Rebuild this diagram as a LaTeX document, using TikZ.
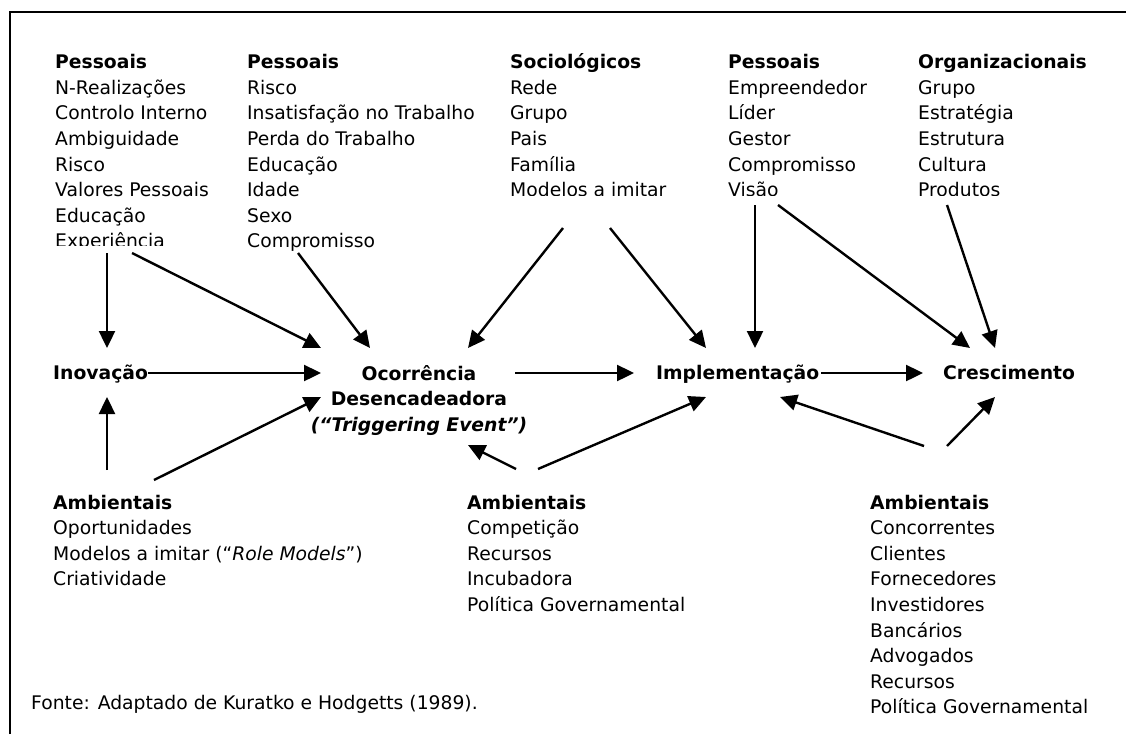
\documentclass[tikz,border=0pt]{standalone}
\usepackage{fontspec}
\setmainfont{DejaVu Sans}
\usetikzlibrary{arrows.meta}
% fixed-height strut so every list's top edge sits at a known distance above its first baseline
\newcommand{\firststrut}{\rule{0pt}{16pt}}
\begin{document}
\begin{tikzpicture}[x=1pt,y=-1pt,
  lst/.style={anchor=north west, inner sep=0pt, align=left,
              font=\fontsize{18.75pt}{25.6pt}\selectfont},
  stage/.style={anchor=base west, inner sep=0pt,
                font=\fontsize{18.75pt}{25.6pt}\selectfont\bfseries},
  link/.style={line width=2.4pt, -{Triangle[length=17pt,width=16pt]}},
  frame/.style={line width=2pt},
]
\useasboundingbox (0,0) rectangle (1126,734);
\draw[frame] (10,734) -- (10,11.5) -- (1126,11.5);

% ---- factor lists above the stages ----
\begin{scope}
  \clip (40,30) rectangle (240,245);
  \node[lst] (persA) at (55,52.5) {\firststrut\textbf{Pessoais}\\N-Realizações\\Controlo Interno\\Ambiguidade\\Risco\\Valores Pessoais\\Educação\\Experiência};
\end{scope}
\node[lst] (persB) at (247,52.5) {\firststrut\textbf{Pessoais}\\Risco\\Insatisfação no Trabalho\\Perda do Trabalho\\Educação\\Idade\\Sexo\\Compromisso};
\begin{scope}
  \clip (490,30) rectangle (1120,195);
  \node[lst] (socio) at (510,52.5) {\firststrut\textbf{Sociológicos}\\Rede\\Grupo\\Pais\\Família\\Modelos a imitar};
  \node[lst] (persC) at (728,52.5) {\firststrut\textbf{Pessoais}\\Empreendedor\\Líder\\Gestor\\Compromisso\\Visão};
  \node[lst] (organ) at (918,52.5) {\firststrut\textbf{Organizacionais}\\Grupo\\Estratégia\\Estrutura\\Cultura\\Produtos};
\end{scope}

% ---- the four stages ----
\node[stage] (inov) at (53,379.8) {Inovação};
\node[anchor=north, inner sep=0pt, align=center,
      font=\fontsize{18.75pt}{25.8pt}\selectfont\bfseries] (ocor) at (419,363.8)
      {\firststrut Ocorrência\\Desencadeadora\\\textit{(“Triggering Event”)}};
\node[stage] (impl) at (656,379.8) {Implementação};
\node[stage] (cres) at (943,379.8) {Crescimento};

% ---- environmental factors below ----
\node[lst] (ambA) at (53,492.8) {\firststrut\textbf{Ambientais}\\Oportunidades\\Modelos a imitar (“\textit{Role Models}”)\\Criatividade};
\node[lst] (ambB) at (467,492.8) {\firststrut\textbf{Ambientais}\\Competição\\Recursos\\Incubadora\\Política Governamental};
\node[lst] (ambC) at (870,492.8) {\firststrut\textbf{Ambientais}\\Concorrentes\\Clientes\\Fornecedores\\Investidores\\Bancários\\Advogados\\Recursos\\Política Governamental};

\node[anchor=base west, inner sep=0pt, font=\fontsize{18.75pt}{25.6pt}\selectfont] (fonte) at (31,709.8)
  {Fonte: Adaptado de Kuratko e Hodgetts (1989).};

% ---- connector end points ----
\coordinate (row) at (0,373);
\coordinate (pa1) at (107,253);  \coordinate (inovT) at (107,348);
\coordinate (pa2) at (132,253);  \coordinate (ocT1) at (321,348);
\coordinate (pb1) at (298,253);  \coordinate (ocT2) at (370,348);
\coordinate (so1) at (563,228);  \coordinate (ocT3) at (468,348);
\coordinate (so2) at (610,228);  \coordinate (imT1) at (706,348);
\coordinate (pc1) at (755,205);  \coordinate (imT2) at (755,348);
\coordinate (pc2) at (778,205);  \coordinate (crT1) at (970,348);
\coordinate (or1) at (947,205);  \coordinate (crT2) at (995,348);
\coordinate (ocL) at (321,373);
\coordinate (ocR) at (515,373);  \coordinate (imL) at (634,373);
\coordinate (crL) at (923,373);
\coordinate (aa1) at (107,470);  \coordinate (inovB) at (107,397);
\coordinate (aa2) at (154,480);  \coordinate (ocB1) at (321,397);
\coordinate (ab1) at (516,469);  \coordinate (ocB2) at (468,445);
\coordinate (ab2) at (538,469);  \coordinate (imB1) at (706,397);
\coordinate (ac1) at (924,446);  \coordinate (imB2) at (780,397);
\coordinate (ac2) at (947,446);  \coordinate (crB) at (995,397);

% ---- connectors ----
\draw[link] (pa1) -- (inovT);
\draw[link] (pa2) -- (ocT1);
\draw[link] (pb1) -- (ocT2);
\draw[link] (so1) -- (ocT3);
\draw[link] (so2) -- (imT1);
\draw[link] (pc1) -- (imT2);
\draw[link] (pc2) -- (crT1);
\draw[link] (or1) -- (crT2);

\draw[link] (inov.east |- row) -- (ocL);
\draw[link] (ocR) -- (imL);
\draw[link, shorten <=2pt] (impl.east |- row) -- (crL);

\draw[link] (aa1) -- (inovB);
\draw[link] (aa2) -- (ocB1);
\draw[link] (ab1) -- (ocB2);
\draw[link] (ab2) -- (imB1);
\draw[link] (ac1) -- (imB2);
\draw[link] (ac2) -- (crB);
\end{tikzpicture}
\end{document}
